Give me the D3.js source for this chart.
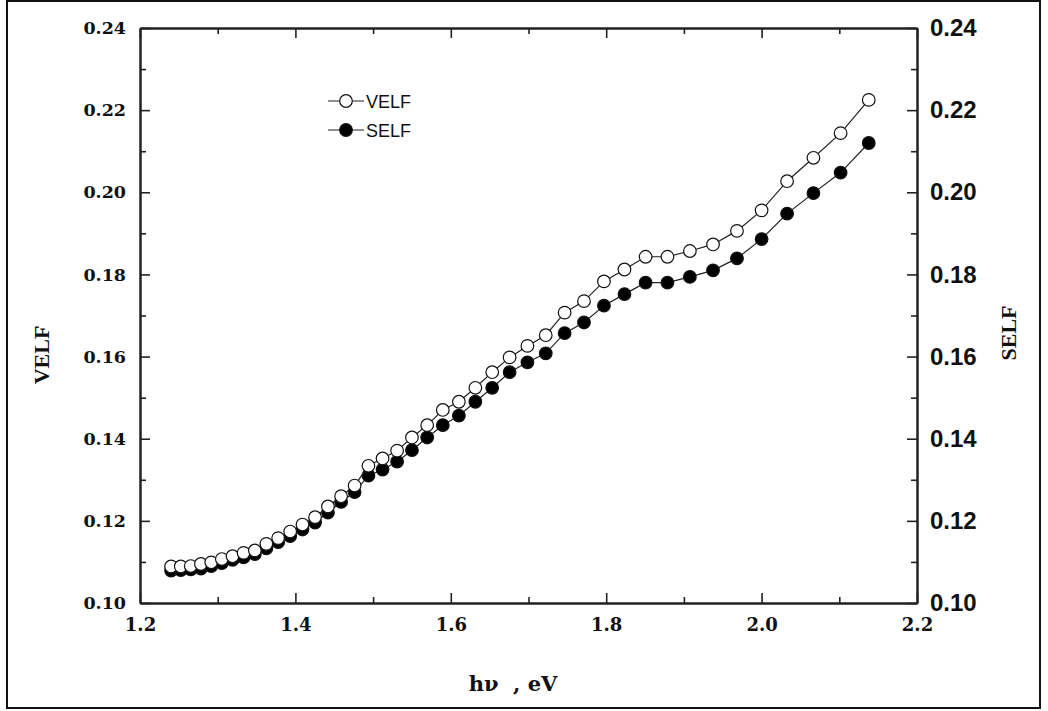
<!DOCTYPE html>
<html>
<head>
<meta charset="utf-8">
<script src="https://cdn.jsdelivr.net/npm/d3@7"></script>
<style>
  html, body { margin: 0; padding: 0; background: #fff; }
  svg { display: block; }
</style>
</head>
<body>
<svg id="chart" width="1048" height="711"></svg>
<script>
// Photon energy (eV) of each measured point
const energy = [
  1.2400, 1.2525, 1.2653, 1.2784, 1.2917, 1.3053, 1.3191, 1.3333, 1.3478, 1.3626,
  1.3778, 1.3933, 1.4091, 1.4253, 1.4419, 1.4588, 1.4762, 1.4940, 1.5122, 1.5309,
  1.5500, 1.5696, 1.5897, 1.6104, 1.6316, 1.6533, 1.6757, 1.6986, 1.7222, 1.7465,
  1.7714, 1.7971, 1.8235, 1.8507, 1.8788, 1.9077, 1.9375, 1.9683, 2.0000, 2.0328,
  2.0667, 2.1017, 2.1379
];

// Volume energy loss function
const velf = [
  0.1089, 0.1089, 0.1090, 0.1095, 0.1099, 0.1107, 0.1114, 0.1122, 0.1128, 0.1144,
  0.1158, 0.1174, 0.1191, 0.1209, 0.1235, 0.1260, 0.1286, 0.1334, 0.1352, 0.1371,
  0.1403, 0.1433, 0.1470, 0.1490, 0.1524, 0.1562, 0.1598, 0.1626, 0.1652, 0.1707,
  0.1735, 0.1783, 0.1812, 0.1843, 0.1843, 0.1857, 0.1873, 0.1906, 0.1956, 0.2027,
  0.2084, 0.2144, 0.2225
];

// Surface energy loss function
const self = [
  0.1079, 0.1080, 0.1082, 0.1084, 0.1090, 0.1097, 0.1105, 0.1111, 0.1119, 0.1133,
  0.1148, 0.1163, 0.1179, 0.1196, 0.1220, 0.1246, 0.1270, 0.1310, 0.1325, 0.1344,
  0.1372, 0.1403, 0.1433, 0.1456, 0.1490, 0.1524, 0.1562, 0.1586, 0.1608, 0.1657,
  0.1683, 0.1724, 0.1752, 0.1780, 0.1780, 0.1794, 0.1810, 0.1839, 0.1886, 0.1948,
  0.1998, 0.2048, 0.2120
];

const xMajorTicks = [1.2, 1.4, 1.6, 1.8, 2.0, 2.2];
const xMinorTicks = [1.3, 1.5, 1.7, 1.9, 2.1];
const yMajorTicks = [0.10, 0.12, 0.14, 0.16, 0.18, 0.20, 0.22, 0.24];
const yMinorTicks = [0.11, 0.13, 0.15, 0.17, 0.19, 0.21, 0.23];

const seriesNames = ["VELF", "SELF"];
const seriesFill = { VELF: "#ffffff", SELF: "#000000" };

const series = [
  { name: "VELF", values: velf },
  { name: "SELF", values: self }
];

const svg = d3.select("#chart");

const plot = { left: 140, right: 917, top: 28, bottom: 603 };

const x = d3.scaleLinear().domain([1.2, 2.2]).range([plot.left, plot.right]);
const y = d3.scaleLinear().domain([0.10, 0.24]).range([plot.bottom, plot.top]);

const bookSerif = "'DejaVu Serif', serif";
const timesSerif = "'Liberation Serif', 'DejaVu Serif', serif";
const sans = "'Liberation Sans', Arial, sans-serif";

// outer frame
svg.append("rect")
  .attr("x", 7).attr("y", 1)
  .attr("width", 1033).attr("height", 707)
  .attr("fill", "none")
  .attr("stroke", "#111")
  .attr("stroke-width", 2);

function styleAxis(g, family, size) {
  g.select(".domain").attr("stroke", "#222").attr("stroke-width", 2);
  g.selectAll(".tick line").attr("stroke", "#222").attr("stroke-width", 1.6);
  g.selectAll(".tick text")
    .attr("fill", "#111")
    .style("font-family", family)
    .style("font-weight", "bold")
    .style("font-size", size + "px");
}

const fmt2 = d3.format(".2f");
const fmt1 = d3.format(".1f");

// minor ticks
svg.append("g").attr("transform", `translate(${plot.left},0)`)
  .call(d3.axisLeft(y).tickValues(yMinorTicks).tickSize(-6).tickSizeOuter(0).tickFormat(""))
  .call(g => styleAxis(g, bookSerif, 18));
svg.append("g").attr("transform", `translate(${plot.right},0)`)
  .call(d3.axisRight(y).tickValues(yMinorTicks).tickSize(-6).tickSizeOuter(0).tickFormat(""))
  .call(g => styleAxis(g, sans, 18));
svg.append("g").attr("transform", `translate(0,${plot.bottom})`)
  .call(d3.axisBottom(x).tickValues(xMinorTicks).tickSize(-6).tickSizeOuter(0).tickFormat(""))
  .call(g => styleAxis(g, bookSerif, 18));
svg.append("g").attr("transform", `translate(0,${plot.top})`)
  .call(d3.axisTop(x).tickValues(xMinorTicks).tickSize(-6).tickSizeOuter(0).tickFormat(""))
  .call(g => styleAxis(g, bookSerif, 18));

// left axis: VELF
svg.append("g").attr("transform", `translate(${plot.left},0)`)
  .call(d3.axisLeft(y).tickValues(yMajorTicks).tickSize(-10).tickSizeOuter(0).tickPadding(14).tickFormat(fmt2))
  .call(g => styleAxis(g, bookSerif, 17.5));

// right axis: SELF
svg.append("g").attr("transform", `translate(${plot.right},0)`)
  .call(d3.axisRight(y).tickValues(yMajorTicks).tickSize(-10).tickSizeOuter(0).tickPadding(13).tickFormat(fmt2))
  .call(g => styleAxis(g, sans, 24));

// bottom axis
svg.append("g").attr("transform", `translate(0,${plot.bottom})`)
  .call(d3.axisBottom(x).tickValues(xMajorTicks).tickSize(-10).tickSizeOuter(0).tickPadding(15).tickFormat(fmt1))
  .call(g => styleAxis(g, bookSerif, 18));

// top axis
svg.append("g").attr("transform", `translate(0,${plot.top})`)
  .call(d3.axisTop(x).tickValues(xMajorTicks).tickSize(-10).tickSizeOuter(0).tickFormat(""))
  .call(g => styleAxis(g, bookSerif, 18));

// axis titles
svg.append("text")
  .attr("transform", `translate(49,355) rotate(-90)`)
  .attr("text-anchor", "middle")
  .style("font-family", timesSerif).style("font-weight", "bold").style("font-size", "22px")
  .attr("fill", "#111")
  .text("VELF");

svg.append("text")
  .attr("transform", `translate(1016,333) rotate(-90)`)
  .attr("text-anchor", "middle")
  .style("font-family", timesSerif).style("font-weight", "bold").style("font-size", "22px")
  .attr("fill", "#111")
  .text("SELF");

svg.append("text")
  .attr("x", 513).attr("y", 691)
  .attr("text-anchor", "middle")
  .style("font-family", bookSerif).style("font-weight", "bold").style("font-size", "21px")
  .attr("fill", "#111")
  .attr("xml:space", "preserve")
  .text("hν  , eV");

// series lines and markers
const line = d3.line()
  .x(d => x(d[0]))
  .y(d => y(d[1]));

["SELF", "VELF"].forEach(name => {
  const s = series.find(v => v.name === name);
  const pts = energy.map((e, i) => [e, s.values[i]]);
  const g = svg.append("g").attr("class", "series-" + name);
  g.append("path")
    .datum(pts)
    .attr("d", line)
    .attr("fill", "none")
    .attr("stroke", "#222")
    .attr("stroke-width", 1.2);
  g.selectAll("circle")
    .data(pts)
    .join("circle")
    .attr("cx", d => x(d[0]))
    .attr("cy", d => y(d[1]))
    .attr("r", 6.3)
    .attr("fill", seriesFill[name])
    .attr("stroke", "#111")
    .attr("stroke-width", 1.2);
});

// legend
const legend = svg.append("g").attr("transform", "translate(328,101)");
seriesNames.forEach((name, i) => {
  const row = legend.append("g").attr("transform", `translate(0,${i * 29})`);
  row.append("line")
    .attr("x1", 0).attr("x2", 36)
    .attr("y1", 0).attr("y2", 0)
    .attr("stroke", "#222").attr("stroke-width", 1.2);
  row.append("circle")
    .attr("cx", 18).attr("cy", 0).attr("r", 6.3)
    .attr("fill", seriesFill[name])
    .attr("stroke", "#111").attr("stroke-width", 1.2);
  row.append("text")
    .attr("x", 38).attr("y", 6.5)
    .style("font-family", sans).style("font-size", "18px")
    .attr("fill", "#111")
    .text(name);
});
</script>
</body>
</html>
